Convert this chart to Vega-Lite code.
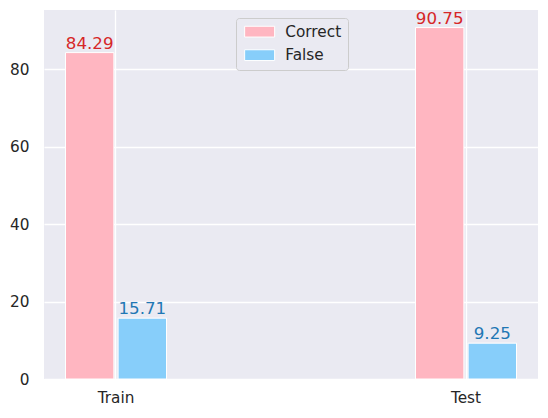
{
  "$schema": "https://vega.github.io/schema/vega-lite/v6.json",
  "width": 494,
  "height": 369,
  "autosize": {"type": "none"},
  "padding": {"left": 44, "top": 10, "right": 10, "bottom": 39},
  "background": "white",
  "config": {
    "font": "DejaVu Sans",
    "view": {"stroke": null, "fill": "#EAEAF2"},
    "axis": {
      "domain": false,
      "ticks": false,
      "grid": true,
      "gridColor": "white",
      "gridWidth": 1.3,
      "labelFontSize": 15.3,
      "labelColor": "#262626",
      "title": null
    }
  },
  "data": {
    "values": [
      {"split": "Train", "type": "Correct", "value": 84.29},
      {"split": "Train", "type": "False", "value": 15.71},
      {"split": "Test", "type": "Correct", "value": 90.75},
      {"split": "Test", "type": "False", "value": 9.25}
    ]
  },
  "encoding": {
    "x": {
      "field": "split",
      "type": "nominal",
      "sort": ["Train", "Test"],
      "scale": {"paddingInner": 0.7114, "paddingOuter": 0.0614},
      "axis": {"labelAngle": 0, "bandPosition": 0.5, "labelPadding": 11}
    },
    "xOffset": {
      "field": "type",
      "type": "nominal",
      "sort": ["Correct", "False"],
      "scale": {"paddingInner": 0.08, "paddingOuter": 0}
    },
    "y": {
      "field": "value",
      "type": "quantitative",
      "scale": {"domain": [0, 95.29], "nice": false, "zero": true},
      "axis": {"values": [0, 20, 40, 60, 80], "labelPadding": 15}
    }
  },
  "layer": [
    {
      "mark": {"type": "bar", "stroke": "white", "strokeWidth": 1},
      "encoding": {
        "color": {
          "field": "type",
          "type": "nominal",
          "scale": {"domain": ["Correct", "False"], "range": ["#FFB6C1", "#87CEFA"]},
          "legend": {
            "title": null,
            "orient": "none",
            "legendX": 192,
            "legendY": 8,
            "direction": "vertical",
            "fillColor": "#EAEAF2",
            "strokeColor": "#cccccc",
            "cornerRadius": 3,
            "padding": 6,
            "labelFontSize": 15.3,
            "labelColor": "#262626",
            "labelOffset": 28,
            "rowPadding": 7.5,
            "symbolType": "M-1,-1.08H5V1.08H-1Z",
            "symbolSize": 100,
            "symbolStrokeColor": "white",
            "symbolStrokeWidth": 1,
            "symbolOpacity": 1
          }
        }
      }
    },
    {
      "mark": {"type": "text", "dy": -4, "baseline": "alphabetic", "align": "center", "fontSize": 16.7},
      "encoding": {
        "text": {"field": "value", "type": "quantitative", "format": ".2f"},
        "color": {
          "field": "type",
          "type": "nominal",
          "scale": {"domain": ["Correct", "False"], "range": ["#d62728", "#1f77b4"]},
          "legend": null
        }
      }
    }
  ],
  "resolve": {"scale": {"color": "independent"}}
}
